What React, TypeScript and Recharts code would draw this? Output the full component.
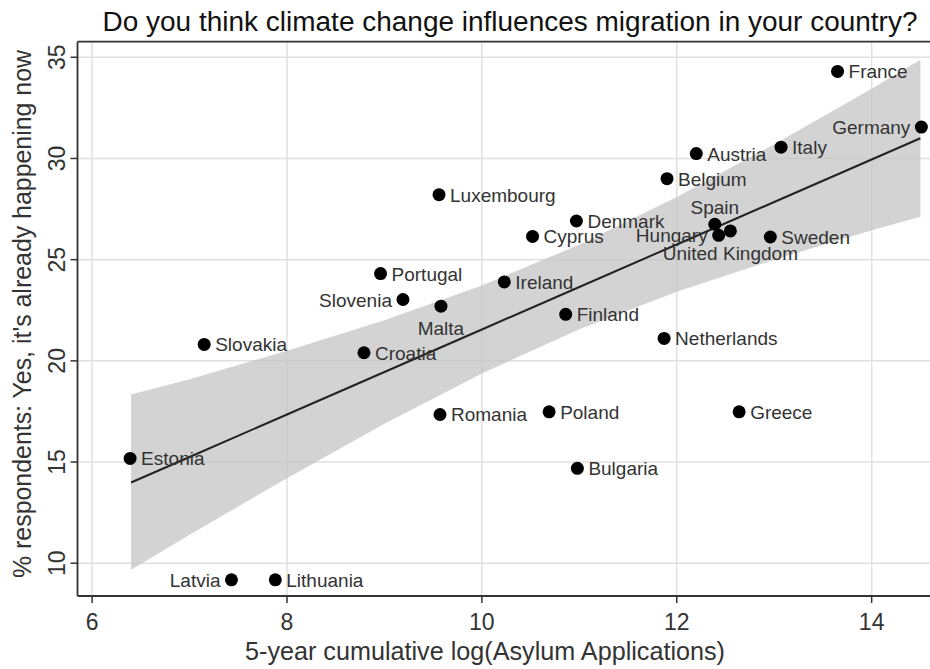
import React from 'react';
import { ComposedChart, XAxis, YAxis, CartesianGrid, Scatter, Area, Line, ReferenceLine } from 'recharts';

const countries = ['France', 'Germany', 'Italy', 'Austria', 'Belgium', 'Luxembourg', 'Denmark', 'Cyprus', 'Spain', 'Hungary', 'United Kingdom', 'Sweden', 'Portugal', 'Ireland', 'Slovenia', 'Malta', 'Finland', 'Slovakia', 'Croatia', 'Netherlands', 'Romania', 'Poland', 'Greece', 'Estonia', 'Bulgaria', 'Latvia', 'Lithuania'];
const logAsylum = [13.65, 14.51, 13.07, 12.2, 11.9, 9.56, 10.97, 10.52, 12.39, 12.43, 12.55, 12.96, 8.96, 10.23, 9.19, 9.58, 10.86, 7.15, 8.79, 11.87, 9.57, 10.69, 12.64, 6.39, 10.98, 7.43, 7.88];
const pctYes = [34.3, 31.55, 30.56, 30.24, 29.0, 28.21, 26.91, 26.15, 26.75, 26.2, 26.42, 26.12, 24.31, 23.9, 23.03, 22.7, 22.3, 20.81, 20.4, 21.11, 17.35, 17.48, 17.48, 15.18, 14.69, 9.18, 9.18];
const labelPos = ['right', 'left', 'right', 'right', 'right', 'right', 'right', 'right', 'top', 'left', 'bottom', 'right', 'right', 'right', 'left', 'bottom', 'right', 'right', 'right', 'right', 'right', 'right', 'right', 'right', 'right', 'left', 'right'];

const fitX = [6.4, 7, 8, 9, 10, 11, 12, 13, 14, 14.5];
const fitY = [13.99, 15.25, 17.35, 19.45, 21.55, 23.65, 25.75, 27.85, 29.95, 31.0];
const ciLow = [9.68, 11.41, 14.2, 16.89, 19.38, 21.56, 23.41, 25.0, 26.45, 27.12];
const ciHigh = [18.34, 19.09, 20.5, 22.01, 23.72, 25.74, 28.09, 30.7, 33.45, 34.88];

const xTicks = [6, 8, 10, 12, 14];
const yTicks = [10, 15, 20, 25, 30, 35];

const title = 'Do you think climate change influences migration in your country?';
const xTitle = '5-year cumulative log(Asylum Applications)';
const yTitle = "% respondents: Yes, it's already happening now";

const FONT = '"Liberation Sans", Arial, Helvetica, sans-serif';
const TEXT = '#333';

const fitData = fitX.map((x, i) => ({ x, fit: fitY[i], ci: [ciLow[i], ciHigh[i]] }));
const points = countries.map((name, i) => ({ name, x: logAsylum[i], y: pctYes[i], pos: labelPos[i] }));

const Dot = (props: any) => {
  const { cx, cy, payload } = props;
  if (cx == null || cy == null) return null;
  const pos = payload.pos;
  let tx = cx + 11;
  let ty = cy + 7;
  let anchor = 'start';
  if (pos === 'left') { tx = cx - 11; anchor = 'end'; }
  if (pos === 'top') { tx = cx; ty = cy - 10; anchor = 'middle'; }
  if (pos === 'bottom') { tx = cx; ty = cy + 29; anchor = 'middle'; }
  return (
    <g>
      <circle cx={cx} cy={cy} r={6.5} fill="#000" />
      <text x={tx} y={ty} textAnchor={anchor} fontSize={19} fontFamily={FONT} fill={TEXT}>{payload.name}</text>
    </g>
  );
};

const XTick = (props: any) => {
  const { x, payload } = props;
  return (
    <text x={x} y={630} textAnchor="middle" fontSize={23} fontFamily={FONT} fill={TEXT}>{payload.value}</text>
  );
};

const YTick = (props: any) => {
  const { y, payload } = props;
  return (
    <text x={57} y={y} transform={`rotate(-90 57 ${y})`} textAnchor="middle" dominantBaseline="central" fontSize={23} fontFamily={FONT} fill={TEXT}>{payload.value}</text>
  );
};

export default function App() {
  return (
    <div style={{ position: 'absolute', left: 0, top: 0, width: 930, height: 669, overflow: 'hidden', background: '#fff' }}>
      <ComposedChart width={960} height={669} data={fitData} margin={{ top: 41.7, right: 25, bottom: 3, left: 17.5 }}>
        <CartesianGrid stroke="#e0e0e0" strokeWidth={1.5} verticalValues={xTicks} horizontalValues={yTicks} />
        <XAxis
          type="number"
          dataKey="x"
          domain={[5.85, 14.65]}
          ticks={xTicks}
          allowDataOverflow
          height={70}
          tick={<XTick />}
          tickSize={7}
          axisLine={{ stroke: '#333', strokeWidth: 1.8 }}
          tickLine={{ stroke: '#333', strokeWidth: 1.5 }}
          label={{
            content: () => (
              <text x={485} y={660} textAnchor="middle" fontSize={25} fontFamily={FONT} fill={TEXT} textLength={480} lengthAdjust="spacingAndGlyphs">{xTitle}</text>
            ),
          }}
        />
        <YAxis
          type="number"
          dataKey="y"
          domain={[8.38, 35.77]}
          ticks={yTicks}
          allowDataOverflow
          width={60}
          tick={<YTick />}
          tickSize={7}
          axisLine={{ stroke: '#333', strokeWidth: 1.8 }}
          tickLine={{ stroke: '#333', strokeWidth: 1.5 }}
          label={{
            content: () => (
              <text x={22} y={314} transform="rotate(-90 22 314)" textAnchor="middle" dominantBaseline="central" fontSize={25} fontFamily={FONT} fill={TEXT} textLength={528} lengthAdjust="spacingAndGlyphs">{yTitle}</text>
            ),
          }}
        />
        <ReferenceLine y={35.77} stroke="#333" strokeWidth={1.8} ifOverflow="visible" />
        <Area type="linear" dataKey="ci" stroke="none" fill="#c4c4c4" fillOpacity={0.75} isAnimationActive={false} activeDot={false} />
        <Line type="linear" dataKey="fit" stroke="#222" strokeWidth={2} dot={false} activeDot={false} isAnimationActive={false} />
        <Scatter data={points} dataKey="y" shape={<Dot />} isAnimationActive={false} />
      </ComposedChart>
      <svg width={930} height={40} style={{ position: 'absolute', left: 0, top: 0 }}>
        <text x={510} y={31} textAnchor="middle" fontSize={27} fontFamily={FONT} fill="#111" textLength={815} lengthAdjust="spacingAndGlyphs">{title}</text>
      </svg>
    </div>
  );
}
